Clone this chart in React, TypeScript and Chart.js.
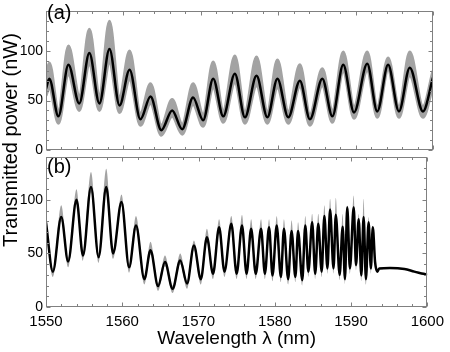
import React, { useEffect, useRef } from 'react';
import { Chart, registerables } from 'chart.js';
Chart.register(...registerables);

const FONT = "'Liberation Sans', Arial, Helvetica, sans-serif";

// Axis ticks
const xMajorTicks = [1550, 1560, 1570, 1580, 1590, 1600];
const xMinorTicks = [1552, 1554, 1556, 1558, 1562, 1564, 1566, 1568, 1572, 1574, 1576, 1578, 1582, 1584, 1586, 1588, 1592, 1594, 1596, 1598];
const yMajorTicks = [0, 50, 100];
const yMinorTicks = [10, 20, 30, 40, 60, 70, 80, 90, 110, 120, 130];

// Panel (a): wavelength (nm), mean trace, gray band upper / lower (nW)
const aWl = [1550.0, 1550.43, 1551.6, 1552.9, 1554.3, 1555.6, 1556.9, 1558.2, 1559.5, 1560.8, 1562.2, 1563.5, 1564.9, 1566.3, 1567.6, 1569.0, 1570.3, 1571.6, 1572.9, 1574.4, 1575.7, 1577.2, 1578.6, 1579.9, 1581.3, 1582.8, 1584.1, 1585.7, 1587.0, 1588.4, 1589.8, 1591.5, 1592.8, 1594.2, 1595.6, 1597.0, 1598.7, 1600.0];
const aMean = [62, 72, 34, 86, 47, 98, 47, 102, 45, 81, 31, 54, 20, 40, 21, 53, 30, 72, 34, 77, 33, 75, 33, 72, 33, 70, 31, 72, 34, 86, 38, 87, 39, 86, 39, 83, 39, 73];
const aUpper = [75, 88, 40, 105, 55, 122, 56, 130, 54, 100, 37, 67, 25, 51, 26, 67, 36, 89, 40, 95, 39, 94, 39, 91, 39, 86, 36, 82, 40, 99, 44, 99, 44, 93, 44, 99, 44, 80];
const aLower = [55, 63, 27, 76, 40, 86, 40, 88, 38, 71, 25, 47, 15, 34, 16, 46, 24, 63, 28, 68, 27, 65, 27, 63, 27, 64, 25, 65, 28, 79, 32, 80, 33, 81, 33, 75, 33, 65];

// Panel (b)
const bWl = [1550.0, 1550.9, 1552.0, 1552.9, 1554.0, 1554.85, 1555.9, 1556.9, 1557.9, 1558.8,
  1559.9, 1560.9, 1561.8, 1562.9, 1563.7, 1564.7, 1565.6, 1566.6, 1567.6, 1568.5,
  1569.4, 1570.3, 1571.1, 1571.9, 1572.7, 1573.4, 1574.3, 1575.0, 1575.7, 1576.3,
  1576.9, 1577.5, 1578.2, 1578.7, 1579.25, 1579.7, 1580.25, 1580.8, 1581.2, 1581.75,
  1582.2, 1582.7, 1583.05, 1583.6, 1584.0, 1584.4, 1584.9, 1585.3, 1585.7, 1586.15,
  1586.5, 1586.9, 1587.25, 1587.7, 1588.0, 1588.5, 1588.9, 1589.2, 1589.5, 1589.85,
  1590.35, 1590.65, 1591.0, 1591.35, 1591.65, 1591.95, 1592.3, 1592.6, 1592.85, 1593.15,
  1593.45, 1593.7, 1595.1, 1597.0, 1598.3, 1599.5, 1600.0];
const bMean = [79, 33, 84, 42.5, 100, 48, 112, 46.5, 112, 50,
  98, 37, 76, 26, 53, 19.5, 42, 17, 43.5, 22,
  57.5, 26, 65, 31, 74.5, 33, 77.6, 31, 76, 31,
  73, 31, 73, 31, 74.5, 29.5, 76, 28, 73, 26,
  71, 28, 71, 25, 76, 33, 79, 31, 77.6, 33,
  85, 36, 91, 36, 86, 30, 75, 26, 93, 36,
  93, 39, 82, 29.5, 84, 26, 79, 36, 74.5, 42,
  33, 36, 36.5, 35.5, 33, 31, 30];
const bUpper = [83, 36, 95, 46, 110, 51, 126, 50, 129, 53,
  105, 40, 85, 29, 61, 22, 48, 20, 50, 25,
  62, 29, 73, 34, 82, 36, 85, 34, 86, 34,
  82, 34, 82, 34, 82, 33, 85, 31, 82, 29,
  81, 31, 79, 28, 85, 36, 87, 34, 87, 36,
  95, 39, 101, 39, 102, 33, 87, 29, 95, 39,
  104, 42, 87, 33, 101, 29, 84, 39, 76, 45,
  34, 36.5, 37, 36, 33.5, 31.5, 30.5];
const bLower = [74, 28, 80, 37, 96, 43, 107, 41, 107, 45,
  94, 32, 72, 21, 49, 15, 38, 13, 40, 17,
  53, 21, 61, 26, 70, 28, 73, 26, 72, 26,
  69, 26, 69, 26, 70, 24, 72, 23, 69, 21,
  67, 23, 67, 20, 72, 28, 75, 26, 73, 28,
  81, 31, 87, 31, 82, 25, 71, 21, 89, 31,
  89, 34, 78, 24, 80, 21, 75, 31, 70, 37,
  32, 35.5, 36, 35, 32.5, 30.5, 29.5];

const frameTicks = {
  id: 'frameTicks',
  afterDatasetsDraw(chart: any) {
    const { ctx, chartArea, scales } = chart;
    const { left, right, top, bottom } = chartArea;
    const x = scales.x, y = scales.y;
    ctx.save();
    ctx.strokeStyle = '#808080';
    ctx.lineWidth = 1;
    const L = Math.round(left) + 0.5, R = Math.round(right) - 0.5;
    const T = Math.round(top) + 0.5, B = Math.round(bottom) - 0.5;
    ctx.strokeRect(L, T, R - L, B - T);
    ctx.beginPath();
    const xt = (v: number, len: number) => {
      const p = Math.round(x.getPixelForValue(v)) + 0.5;
      ctx.moveTo(p, B); ctx.lineTo(p, B - len);
      ctx.moveTo(p, T); ctx.lineTo(p, T + len);
    };
    const yt = (v: number, len: number) => {
      const p = Math.round(y.getPixelForValue(v)) + 0.5;
      ctx.moveTo(L, p); ctx.lineTo(L + len, p);
      ctx.moveTo(R, p); ctx.lineTo(R - len, p);
    };
    xMajorTicks.forEach((v) => xt(v, 4));
    xMinorTicks.forEach((v) => xt(v, 2.5));
    yMajorTicks.forEach((v) => yt(v, 4));
    yMinorTicks.forEach((v) => yt(v, 2.5));
    ctx.stroke();
    ctx.restore();
  },
};

const GRAY = '#a3a3a3';

function makeConfig(wl: number[], mean: number[], upper: number[], lower: number[], isBottom: boolean): any {
  const pts = (ys: number[]) => wl.map((x, i) => ({ x, y: ys[i] }));
  const edge = isBottom ? { borderColor: 'rgba(0,0,0,0)', borderWidth: 0 } : { borderColor: GRAY, borderWidth: 3 };
  return {
    type: 'line',
    data: {
      datasets: [
        { data: pts(mean), borderColor: '#000', borderWidth: 2.5, pointRadius: 0, cubicInterpolationMode: 'monotone', fill: false },
        { data: pts(upper), ...edge, backgroundColor: GRAY, pointRadius: 0, cubicInterpolationMode: 'monotone', fill: '+1' },
        { data: pts(lower), ...edge, pointRadius: 0, cubicInterpolationMode: 'monotone', fill: false },
      ],
    },
    options: {
      responsive: false,
      animation: false,
      devicePixelRatio: 1,
      events: [],
      layout: { padding: { left: 0, right: 17, top: isBottom ? 157 : 0.5, bottom: isBottom ? 0 : 202 } },
      plugins: { legend: { display: false }, tooltip: { enabled: false } },
      scales: {
        x: {
          type: 'linear', min: 1550, max: 1600, display: isBottom,
          afterBuildTicks: (s: any) => { s.ticks = xMajorTicks.map((v) => ({ value: v })); },
          afterFit: (s: any) => { s.height = isBottom ? 45 : 0; },
          grid: { display: false, drawTicks: false },
          border: { display: false },
          ticks: { font: { family: FONT, size: 15 }, color: '#000', padding: 6, maxRotation: 0, autoSkip: false, callback: (v: any) => String(v) },
          title: { display: isBottom, text: 'Wavelength λ (nm)', font: { family: FONT, size: 19, lineHeight: 1.2 }, color: '#000', padding: { top: 0, bottom: 2 } },
        },
        y: {
          type: 'linear', min: 0, max: 140,
          afterBuildTicks: (s: any) => { s.ticks = yMajorTicks.map((v) => ({ value: v })); },
          afterFit: (s: any) => { s.width = 46; },
          grid: { display: false, drawTicks: false },
          border: { display: false },
          ticks: { font: { family: FONT, size: 14 }, color: '#000', padding: 3, callback: (v: any) => String(v) },
        },
      },
    },
    plugins: [frameTicks],
  };
}

export default function App() {
  const refA = useRef<HTMLCanvasElement>(null);
  const refB = useRef<HTMLCanvasElement>(null);
  useEffect(() => {
    const ca = new Chart(refA.current as HTMLCanvasElement, makeConfig(aWl, aMean, aUpper, aLower, false));
    const cb = new Chart(refB.current as HTMLCanvasElement, makeConfig(bWl, bMean, bUpper, bLower, true));
    return () => { ca.destroy(); cb.destroy(); };
  }, []);
  const canvasStyle: React.CSSProperties = { position: 'absolute', left: 0, top: 0, width: 450, height: 352 };
  const label: React.CSSProperties = { position: 'absolute', fontFamily: FONT, fontSize: 20, lineHeight: '20px', color: '#000', whiteSpace: 'nowrap' };
  return (
    <div style={{ position: 'fixed', left: 0, top: 0, width: 450, height: 352, background: '#fff', overflow: 'hidden' }}>
      <canvas ref={refB} width={450} height={352} style={canvasStyle} />
      <canvas ref={refA} width={450} height={352} style={canvasStyle} />
      <div style={{ ...label, left: 47, top: 2 }}>(a)</div>
      <div style={{ ...label, left: 47, top: 156 }}>(b)</div>
      <div style={{ ...label, left: 10, top: 140, transform: 'translate(-50%, -50%) rotate(-90deg)' }}>Transmitted power (nW)</div>
    </div>
  );
}
